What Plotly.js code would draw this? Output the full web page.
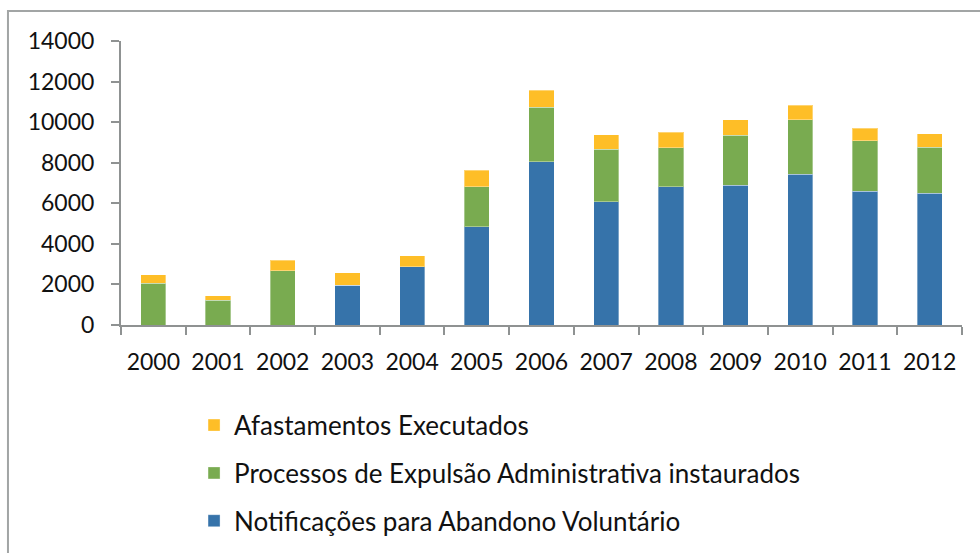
<!DOCTYPE html>
<html>
<head>
<meta charset="utf-8">
<script src="https://cdn.plot.ly/plotly-3.0.1.min.js"></script>
<style>html,body{margin:0;padding:0;background:#fff;}#chart{width:980px;height:553px;}</style>
</head>
<body>
<div id="chart"></div>
<script>
const years = ["2000","2001","2002","2003","2004","2005","2006","2007","2008","2009","2010","2011","2012"];
const notificacoes = [0, 0, 0, 1960, 2870, 4850, 8050, 6070, 6810, 6900, 7440, 6600, 6490];
const processos = [2050, 1230, 2680, 0, 0, 1970, 2680, 2600, 1940, 2460, 2680, 2480, 2270];
const afastamentos = [420, 210, 520, 620, 540, 820, 850, 720, 740, 770, 720, 620, 660];
const names = ["Notificações para Abandono Voluntário", "Processos de Expulsão Administrativa instaurados", "Afastamentos Executados"];
const yTicks = [0, 2000, 4000, 6000, 8000, 10000, 12000, 14000];

const colors = ["#3673AA", "#79AB50", "#FEBE27"];
const series = [notificacoes, processos, afastamentos];
const traces = series.map((vals, i) => ({
  type: "bar",
  x: years,
  y: vals,
  name: names[i],
  legendgroup: "g" + i,
  legendrank: 3 - i,
  marker: {color: colors[i], line: {color: "rgba(255,255,255,0.35)", width: 1}},
  hoverinfo: "x+y+name"
}));

const font = {family: "Lato, 'Open Sans', sans-serif", size: 23, color: "#111"};
const legendFont = {family: "Lato, 'Open Sans', sans-serif", size: 26, color: "#111"};
const layout = {
  width: 980, height: 553,
  margin: {l: 121, r: 18, t: 41, b: 228, autoexpand: false},
  barmode: "stack",
  bargap: 0.61,
  paper_bgcolor: "#fff",
  plot_bgcolor: "#fff",
  font: font,
  showlegend: true,
  legend: {
    xref: "container", yref: "container",
    x: 0.198, y: 0.2736, xanchor: "left", yanchor: "top",
    orientation: "v",
    traceorder: "grouped",
    tracegroupgap: 11,
    font: legendFont,
    bgcolor: "rgba(0,0,0,0)"
  },
  xaxis: {
    type: "category",
    showline: true, linecolor: "#8f9292", linewidth: 2,
    ticks: "outside", ticklen: 8, tickwidth: 2, tickcolor: "#8f9292",
    tickson: "boundaries",
    tickangle: 0,
    showgrid: false, zeroline: false,
    tickfont: font,
    ticklabelstandoff: 15
  },
  yaxis: {
    range: [0, 14000],
    tickvals: yTicks,
    ticktext: yTicks.map(String),
    showline: true, linecolor: "#8f9292", linewidth: 2,
    ticks: "outside", ticklen: 8, tickwidth: 2, tickcolor: "#8f9292",
    showgrid: false, zeroline: false,
    tickfont: font,
    ticklabelstandoff: 12
  },
  shapes: [{
    type: "rect", xref: "paper", yref: "paper",
    x0: -0.1344, x1: 1.1, y0: -0.95, y1: 1.1056,
    line: {color: "#a2a5a5", width: 2}, fillcolor: "rgba(0,0,0,0)", layer: "below"
  }]
};

Plotly.newPlot("chart", traces, layout, {displayModeBar: false, staticPlot: true});
</script>
</body>
</html>
